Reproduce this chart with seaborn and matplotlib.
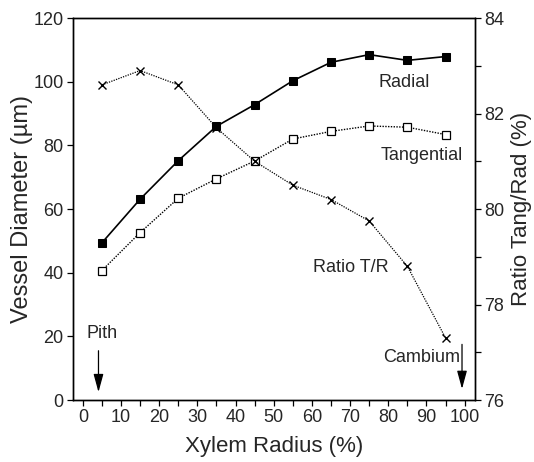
import numpy as np
import pandas as pd
import seaborn as sns
from matplotlib import pyplot as plt

# values
radius = [5, 15, 25, 35, 45, 55, 65, 75, 85, 95]
radial = [49.4, 63.1, 75.2, 86.0, 92.8, 100.3, 106.1, 108.5, 106.7, 107.9]
tangential = [40.7, 52.6, 63.4, 69.5, 75.1, 82.0, 84.4, 86.1, 85.7, 83.4]
ratio = [82.6, 82.9, 82.6, 81.7, 81.0, 80.5, 80.2, 79.75, 78.8, 77.3]

df = pd.DataFrame({'radius': radius, 'radial': radial,
                   'tangential': tangential, 'ratio': ratio})

sns.set_style('ticks')
plt.rcParams['font.family'] = ['Liberation Sans', 'DejaVu Sans']
plt.rcParams['xtick.direction'] = 'out'
plt.rcParams['ytick.direction'] = 'out'

fig = plt.figure(figsize=(5.34, 4.62), dpi=100)
ax = fig.add_axes([0.1358, 0.134, 0.7537, 0.827])
ax2 = ax.twinx()

sns.lineplot(data=df, x='radius', y='radial', ax=ax, color='black',
             linewidth=1.2, marker='s', markersize=5.5,
             markerfacecolor='black', markeredgecolor='black')
sns.lineplot(data=df, x='radius', y='tangential', ax=ax, color='black',
             linewidth=1.0, linestyle=(0, (1.0, 1.0)), marker='s',
             markersize=5.5, markerfacecolor='white', markeredgecolor='black',
             markeredgewidth=0.9)
sns.lineplot(data=df, x='radius', y='ratio', ax=ax2, color='black',
             linewidth=0.9, linestyle=(0, (1.0, 1.0)), marker='x',
             markersize=6, markeredgecolor='black', markeredgewidth=1.0)

ax.set_xlim(-2.7, 102.7)
ax.set_ylim(0, 120)
ax2.set_ylim(76, 84)
ax.set_xticks(np.arange(0, 101, 10))
ax.set_xticks(np.arange(5, 100, 10), minor=True)
ax.set_yticks(np.arange(0, 121, 20))
ax2.set_yticks([76, 78, 80, 82, 84])
ax2.set_yticks([77, 79, 81, 83], minor=True)

for a in (ax, ax2):
    a.tick_params(which='major', length=4.5, width=0.9, labelsize=13, pad=2,
                  color='black')
    a.tick_params(which='minor', length=4.5, width=0.9, color='black')
    for s in a.spines.values():
        s.set_linewidth(1.0)
        s.set_color('black')

ax.set_xlabel('Xylem Radius (%)', fontsize=16, labelpad=7)
ax.set_ylabel('Vessel Diameter (\u00b5m)', fontsize=17, labelpad=0)
ax2.set_ylabel('Ratio Tang/Rad (%)', fontsize=16, labelpad=5)

ax.text(77.3, 99.7, 'Radial', fontsize=13, va='center')
ax.text(77.9, 76.7, 'Tangential', fontsize=13, va='center')
ax.text(60.4, 41.5, 'Ratio T/R', fontsize=13, va='center')
ax.text(78.6, 13.5, 'Cambium', fontsize=13, va='center')
ax.text(0.9, 21.0, 'Pith', fontsize=13, va='center')

arrow = dict(arrowstyle='-|>,head_width=0.3,head_length=1.1', color='black',
             lw=0.9, shrinkA=0, shrinkB=0)
ax.annotate('', xy=(4.1, 2.5), xytext=(4.1, 15.5), arrowprops=arrow)
ax.annotate('', xy=(99.3, 3.5), xytext=(99.3, 17.5), arrowprops=arrow)

fig.savefig('out.png', dpi=100)
